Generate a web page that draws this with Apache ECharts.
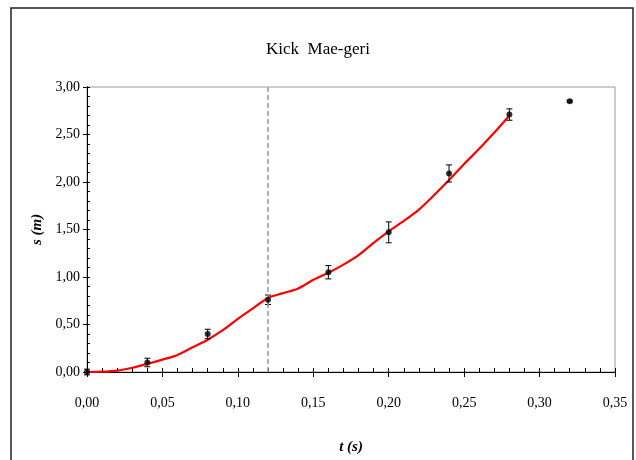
<!DOCTYPE html>
<html>
<head>
<meta charset="utf-8">
<script src="https://cdn.jsdelivr.net/npm/echarts@6/dist/echarts.min.js"></script>
<style>html,body{margin:0;padding:0;background:#fff}#c{width:636px;height:460px}</style>
</head>
<body>
<div id="c"></div>
<script>
// Measured points (t in s, s in m) with error half-widths
const pointT = [0.00, 0.04, 0.08, 0.12, 0.16, 0.20, 0.24, 0.28, 0.32];
const pointS = [0.00, 0.10, 0.40, 0.76, 1.05, 1.47, 2.09, 2.71, 2.85];
const pointErr = [0.03, 0.045, 0.05, 0.05, 0.07, 0.11, 0.09, 0.06, 0.01];
// Fitted red curve
const curveT = [0.00,0.01,0.02,0.03,0.04,0.05,0.06,0.07,0.08,0.09,0.10,0.11,0.12,0.13,0.14,0.15,0.16,0.17,0.18,0.19,0.20,0.21,0.22,0.23,0.24,0.25,0.26,0.27,0.28];
const curveS = [0.00,0.003,0.015,0.045,0.085,0.13,0.18,0.26,0.34,0.44,0.56,0.67,0.78,0.83,0.88,0.97,1.045,1.13,1.23,1.36,1.48,1.59,1.71,1.86,2.02,2.19,2.35,2.52,2.70];
const markT = 0.12;
const titleText = 'Kick  Mae-geri';
const xName = 't (s)';
const yName = 's (m)';

const fmt = v => v.toFixed(2).replace('.', ',');
const serif = '"Liberation Serif", "DejaVu Serif", serif';

const chart = echarts.init(document.getElementById('c'), null, {renderer: 'canvas'});
const axisBase = {
  axisLine: {show: true, onZero: false, lineStyle: {color: '#000', width: 1}},
  splitLine: {show: false}
};
chart.setOption({
  animation: false,
  backgroundColor: '#fff',
  title: {
    text: titleText, left: 'center', top: 36,
    textStyle: {fontFamily: serif, fontSize: 17, fontWeight: 'normal', color: '#000'}
  },
  graphic: [{
    type: 'rect', silent: true,
    shape: {x: 11, y: 8, width: 622, height: 470},
    style: {fill: 'none', stroke: '#222', lineWidth: 1.5}
  }],
  grid: {left: 87, right: 21, top: 87, bottom: 88, show: true, borderColor: '#999', borderWidth: 1},
  xAxis: [
    Object.assign({}, axisBase, {
      type: 'value', position: 'bottom', min: 0, max: 0.35, interval: 0.05,
      name: xName, nameLocation: 'middle', nameGap: 68,
      nameTextStyle: {fontFamily: serif, fontSize: 15, fontStyle: 'italic', fontWeight: 'bold', color: '#000'},
      axisTick: {show: true, inside: false, length: 5, lineStyle: {color: '#000'}},
      axisLabel: {formatter: fmt, margin: 24, fontFamily: serif, fontSize: 14, color: '#000'}
    }),
    Object.assign({}, axisBase, {
      type: 'value', position: 'bottom', min: 0, max: 0.35, interval: 0.05,
      axisTick: {show: true, inside: true, length: 4, lineStyle: {color: '#000'}},
      minorTick: {show: true, splitNumber: 5, length: 4, lineStyle: {color: '#000'}},
      axisLabel: {show: false}
    })
  ],
  yAxis: [
    Object.assign({}, axisBase, {
      type: 'value', position: 'left', min: 0, max: 3, interval: 0.5,
      name: yName, nameLocation: 'middle', nameGap: 40, nameRotate: 90,
      nameTextStyle: {fontFamily: serif, fontSize: 15, fontStyle: 'italic', fontWeight: 'bold', color: '#000'},
      axisTick: {show: true, inside: false, length: 4, lineStyle: {color: '#000'}},
      axisLabel: {formatter: fmt, margin: 7, fontFamily: serif, fontSize: 14, color: '#000'}
    }),
    Object.assign({}, axisBase, {
      type: 'value', position: 'left', min: 0, max: 3, interval: 0.5,
      axisTick: {show: true, inside: true, length: 3, lineStyle: {color: '#000'}},
      minorTick: {show: true, splitNumber: 5, length: 3, lineStyle: {color: '#000'}},
      axisLabel: {show: false}
    })
  ],
  series: [
    {
      type: 'line', xAxisIndex: 0, yAxisIndex: 0,
      data: curveT.map((t, i) => [t, curveS[i]]),
      showSymbol: false, symbol: 'none', smooth: 0.3,
      lineStyle: {color: '#ff0000', width: 2.2},
      markLine: {
        silent: true, symbol: 'none', label: {show: false},
        lineStyle: {type: [5, 3], color: '#999', width: 1.5},
        data: [{xAxis: markT}]
      },
      z: 3
    },
    {
      type: 'custom', xAxisIndex: 0, yAxisIndex: 0,
      data: pointT.map((t, i) => [t, pointS[i], pointS[i] - pointErr[i], pointS[i] + pointErr[i]]),
      renderItem: function (params, api) {
        const x = api.value(0);
        const lo = api.coord([x, api.value(2)]);
        const hi = api.coord([x, api.value(3)]);
        const w = 3;
        const st = {stroke: '#000', lineWidth: 1};
        return {type: 'group', children: [
          {type: 'line', shape: {x1: lo[0], y1: lo[1], x2: hi[0], y2: hi[1]}, style: st},
          {type: 'line', shape: {x1: lo[0] - w, y1: lo[1], x2: lo[0] + w, y2: lo[1]}, style: st},
          {type: 'line', shape: {x1: hi[0] - w, y1: hi[1], x2: hi[0] + w, y2: hi[1]}, style: st}
        ]};
      },
      z: 4
    },
    {
      type: 'scatter', xAxisIndex: 0, yAxisIndex: 0,
      data: pointT.map((t, i) => [t, pointS[i]]),
      symbol: 'circle', symbolSize: 6,
      itemStyle: {color: '#000'},
      z: 5
    }
  ]
});
</script>
</body>
</html>
